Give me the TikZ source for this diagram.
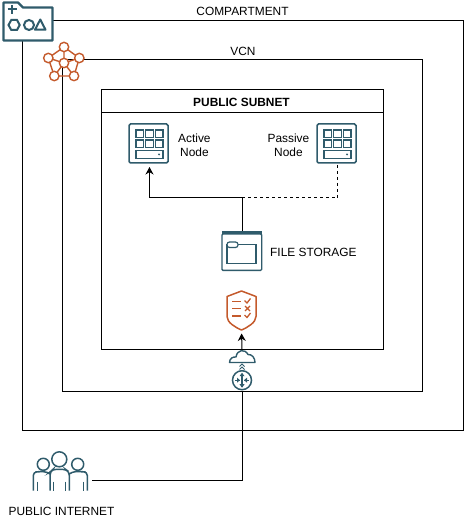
\documentclass[tikz,border=0pt]{standalone}
\usepackage{fontspec}
\setmainfont{Liberation Sans}
\usepackage{xcolor}
\usetikzlibrary{arrows.meta,positioning}
\definecolor{slate}{RGB}{47,91,107}
\definecolor{rust}{RGB}{196,90,44}
\tikzset{
	framebox/.style={draw=black, line width=1pt},
	iconbox/.style={inner sep=0pt, outer sep=0pt, minimum width=39pt, minimum height=39pt},
	caption/.style={inner sep=0pt, font=\fontsize{11.9}{14}\selectfont, align=center},
	link/.style={draw=black, line width=1pt},
	linkhead/.style={link, -{Stealth[length=7.5pt,width=8pt]}},
	gridicon/.pic={
		\draw[slate, line width=1.5pt, rounded corners=1.5pt, fill=white] (-19.5,-19.5) rectangle (19.5,19.5);
		\foreach \row in {-13.5,-3.5}
			\foreach \col in {-12.5,-3,6.8}
				\draw[slate, line width=1.2pt] (\col,\row) rectangle ++(7.6,7.6);
		\draw[slate, line width=1.2pt] (-12.5,7) rectangle (14.5,14.8);
		\fill[slate] (10.5,10.9) circle (1.1pt);
	},
	storeicon/.pic={
		\fill[slate] (-20,-20) rectangle (20,-17);
		\draw[slate, line width=1.4pt, rounded corners=1pt] (-20,-17) rectangle (19.7,19.3);
		\draw[slate, line width=1.4pt] (-15,-6.5) rectangle (14,12.5);
		\draw[slate, line width=1.2pt, rounded corners=2.5pt, fill=white] (-15,-9) rectangle (-4,-3.5);
	},
	shieldicon/.pic={
		\draw[rust, line width=1.5pt, line join=round] (0,-19.5) -- (14.5,-14) -- (14.5,6)
			.. controls (14.5,12) and (6,17) .. (0,19.5) .. controls (-6,17) and (-14.5,12) .. (-14.5,6) -- (-14.5,-14) -- cycle;
		\foreach \row in {-9,-2,5.5}
			\draw[rust, line width=1.4pt] (-9.5,\row) -- (-1,\row);
		\draw[rust, line width=1.3pt] (3,-10) -- (5.5,-7.5) -- (9,-12);
		\draw[rust, line width=1.4pt] (3.5,-4.5) -- (8.5,0.5) (8.5,-4.5) -- (3.5,0.5);
		\draw[rust, line width=1.3pt] (3,4.5) -- (5.5,7) -- (9,2.5);
	},
	gatewayicon/.pic={
		\draw[slate, line width=1.4pt, fill=white, line join=round] (-12,5.5) -- (-12.5,5.5) .. controls (-12.5,1.5) and (-9,-0.5) .. (-6,0)
			.. controls (-5,-7.5) and (3,-8.5) .. (6,-2.5) .. controls (10,-3) and (13,1) .. (13,5.5) -- cycle;
		\draw[slate, line width=0.9pt] (-2.5,9.5) -- (0,7) -- (2.5,9.5) (-2.5,12.5) -- (0,10) -- (2.5,12.5);
	},
	routericon/.pic={
		\draw[slate, line width=1.5pt, fill=white] (0,0) circle (9.5);
		\draw[slate, line width=1.1pt] (0,-6.5) -- (0,6.5) (-7,0) -- (-2,0) (2,0) -- (7,0);
		\fill[slate] (0,-7.5) -- (-2.5,-4) -- (2.5,-4) -- cycle (0,7.5) -- (-2.5,4) -- (2.5,4) -- cycle;
		\fill[slate] (-2,0) -- (-5,-2.5) -- (-5,2.5) -- cycle (2,0) -- (5,-2.5) -- (5,2.5) -- cycle;
	},
	crowdicon/.pic={
		\draw[slate, line width=1.5pt] (-2.7,-20.7) circle (7.5) (-18.7,-15.7) circle (6) (15.7,-15.7) circle (6);
		\draw[slate, line width=1.5pt, rounded corners=3.5pt]
			(-12,10.7) -- (-12,-8) -- (-9,-10.7) -- (3.5,-10.7) -- (7.3,-8) -- (7.3,10.7)
			(-28.7,10.7) -- (-28.7,-8) -- (-23,-8.3) -- (-15,-8.3) -- (-12,-6)
			(25.3,10.7) -- (25.3,-8) -- (20,-8.3) -- (10,-8.3) -- (7.3,-6);
		\draw[slate, line width=1.3pt] (-24.7,1.7) -- (-24.7,10.7) (-8.7,1.7) -- (-8.7,10.7) (3.3,1.7) -- (3.3,10.7) (21.3,1.7) -- (21.3,10.7);
	},
	folderglyph/.pic={
		\draw[slate, line width=2.4pt, fill=white, line join=round] (-24.5,-18.5) -- (-10,-18.5) -- (-5,-13.5) -- (24.5,-13.5) -- (24.5,19.5) -- (-24.5,19.5) -- cycle;
		\draw[slate, line width=2.2pt] (-20.5,-11.7) -- (-11.5,-11.7) (-16,-16) -- (-16,-7.4);
		\draw[slate, line width=2pt] (-19.5,4) -- (-16.7,-1) -- (-11,-1) -- (-8.3,4) -- (-11,9) -- (-16.7,9) -- cycle;
		\draw[slate, line width=2pt] (1,4) circle (5);
		\draw[slate, line width=2pt, line join=round] (12.3,-1.5) -- (17.5,8.7) -- (7,8.7) -- cycle;
	},
	meshicon/.pic={
		\draw[rust, line width=1.4pt] (0,-16) -- (-15.7,-5) -- (-9.7,13) -- (10,13) -- (15.3,-5) -- cycle;
		\draw[rust, line width=1.4pt] (0,-16) -- (0,0) (-15.7,-5) -- (0,0) (15.3,-5) -- (0,0) (-9.7,13) -- (0,0) (10,13) -- (0,0);
		\foreach \px/\py in {0/-16,-15.7/-5,15.3/-5,-9.7/13,10/13,0/0}
			\draw[rust, line width=1.4pt, fill=white] (\px,\py) circle (4.7);
	}
}
\begin{document}
\begin{tikzpicture}[x=1pt, y=-1pt]
	\useasboundingbox (0,0) rectangle (463,521);
	\draw[framebox] (22.5,20.5) rectangle (463,430.5);
	\draw[framebox] (62.5,59.5) rectangle (422.5,391.5);
	\draw[framebox] (101.5,89.5) rectangle (383.5,349.5);
	\draw[framebox] (101.5,112.5) -- (383.5,112.5);
	% icons
	\node[iconbox] (active) at (148.5,143.5) {};
	\node[iconbox] (passive) at (336.5,143.5) {};
	\node[iconbox, minimum width=40pt, minimum height=40pt] (filestore) at (242,251) {};
	\node[iconbox, minimum width=30pt, minimum height=40pt] (shield) at (241.5,310.5) {};
	\node[iconbox, minimum width=26pt, minimum height=14pt] (cloud) at (242,357) {};
	\node[iconbox, minimum width=20pt, minimum height=22.5pt] (router) at (242,380.2) {};
	\node[iconbox, minimum width=60pt, minimum height=22pt] (crowd) at (62,480) {};
	\node[iconbox, minimum width=50pt] (compartment) at (28,21) {};
	\node[iconbox, minimum width=40pt, minimum height=38pt] (vcn) at (64,63) {};
	\pic at (active) {gridicon};
	\pic at (passive) {gridicon};
	\pic at (filestore) {storeicon};
	\pic at (shield) {shieldicon};
	\pic at (cloud) {gatewayicon};
	\pic at (router) {routericon};
	\pic at (crowd) {crowdicon};
	\pic at (compartment) {folderglyph};
	\pic at (vcn) {meshicon};
	% labels
	\node[caption] (complabel) at (242.5,11) {COMPARTMENT};
	\node[caption] (vcnlabel) at (243,51) {VCN};
	\node[caption, font=\fontsize{11.9}{14}\selectfont\bfseries] (subnetlabel) at (241.5,102) {PUBLIC SUBNET};
	\node[caption, right=10pt of active, yshift=-2pt] (activelabel) {Active\\Node};
	\node[caption, left=7.5pt of passive, yshift=-2pt] (passivelabel) {Passive\\Node};
	\node[caption, right=8pt of filestore, yshift=-1.5pt] (storelabel) {FILE STORAGE};
	\node[caption] (crowdlabel) at (61.5,511) {PUBLIC INTERNET};
	% links
	\coordinate (jog) at (242,198);
	\draw[linkhead, shorten >=4pt] (filestore.north) -- (jog) -| ([xshift=1pt]active.south);
	\draw[link, dashed, dash pattern=on 3pt off 3pt, shorten <=2pt] ([xshift=1pt]passive.south) |- (jog);
	\draw[linkhead, shorten >=3pt] (cloud.north) -- (shield.south);
	\draw[link] (crowd.east) -| ([xshift=0.5pt]router.south);
\end{tikzpicture}
\end{document}
